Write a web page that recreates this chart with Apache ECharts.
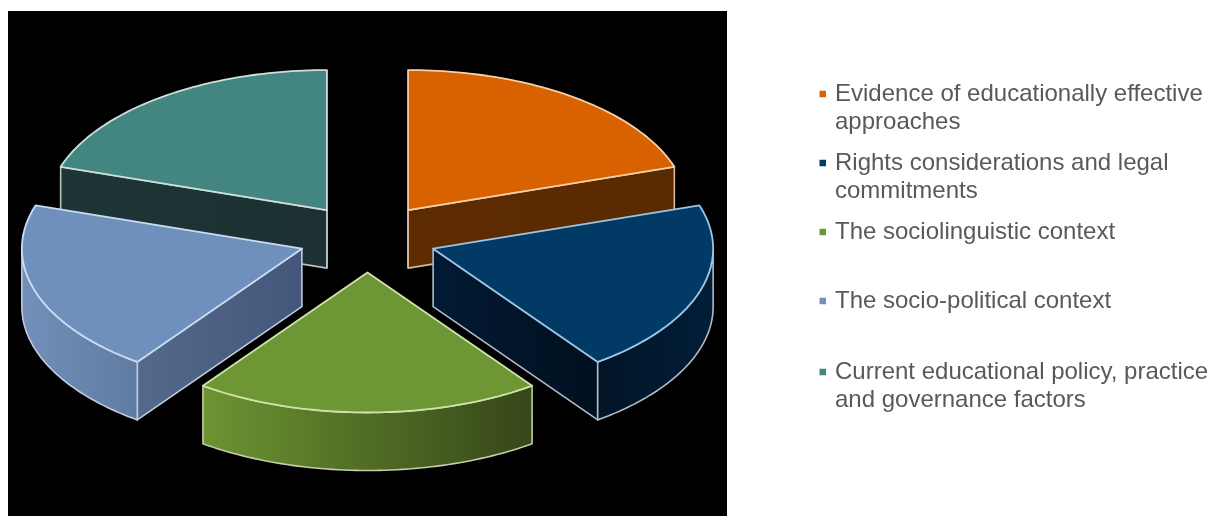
<!DOCTYPE html>
<html>
<head>
<meta charset="utf-8">
<style>html,body{margin:0;padding:0;background:#fff}#chart{width:1213px;height:516px}</style>
<script src="https://cdn.jsdelivr.net/npm/echarts@6/dist/echarts.min.js"></script>
</head>
<body>
<div id="chart"></div>
<script>
// Five equally weighted factors
const categories = [
  'Evidence of educationally effective\napproaches',
  'Rights considerations and legal\ncommitments',
  'The sociolinguistic context',
  'The socio-political context',
  'Current educational policy, practice\nand governance factors'
];
const values = [20, 20, 20, 20, 20];

// Face colours per slice
const topColors = ['#D96200', '#023A66', '#6D9634', '#6F90BC', '#438581'];
const edgeColors = ['#F7CFA8', '#9CC4E4', '#CFE3A8', '#C9DCF2', '#CFE0DC'];
const sideEdgeColors = ['#D8B8A0', '#B0BCC8', '#C4CCA8', '#C0CCDC', '#B8C4C2'];
const wallColors = [['#5E2B00', '#5A2A00'], ['#011A33', '#011020'], ['#000', '#000'], ['#54698C', '#43577A'], ['#1E3536', '#1C3031']];
const rimColors = [['#5E2B00', '#5E2B00'], ['#011427', '#021E38'], ['#6C9432', '#364619'], ['#7390BB', '#5F7BA0'], ['#1E3536', '#1E3536']];
const legendY = [94, 163, 232, 301, 372];

// Projected pie geometry
const cx = 367.5, cy = 238, rx = 280, ry = 140, depth = 58, explodeX = 69, explodeY = 34.5;
const total = values.reduce((a, b) => a + b, 0);

function renderSlice(params, api) {
  const i = params.dataIndex;
  const before = values.slice(0, i).reduce((a, b) => a + b, 0);
  const a0 = before / total * 2 * Math.PI;
  const a1 = a0 + api.value(0) / total * 2 * Math.PI;
  const mid = (a0 + a1) / 2;
  const ax = cx + explodeX * Math.sin(mid);
  const ay = cy - explodeY * Math.cos(mid);
  const pt = (t, dy) => [ax + rx * Math.sin(t), ay - ry * Math.cos(t) + dy];
  const arc = (s, e, dy) => {
    const pts = [];
    const n = 60;
    for (let k = 0; k <= n; k++) pts.push(pt(s + (e - s) * k / n, dy));
    return pts;
  };
  const hgrad = c => ({ type: 'linear', x: 0, y: 0, x2: 1, y2: 0, colorStops: [{ offset: 0, color: c[0] }, { offset: 1, color: c[1] }] });
  const sideStyle = c => ({ fill: hgrad(c), stroke: sideEdgeColors[i], lineWidth: 1.6, lineJoin: 'round' });
  // Slices nearer the viewer paint over those behind
  const base = Math.round(200 - 100 * Math.cos(mid));
  const children = [];

  // Radial cut walls that face the viewer
  [[a1, Math.sin(a1) > 1e-6], [a0, Math.sin(a0) < -1e-6]].forEach(([t, visible]) => {
    if (!visible) return;
    const e = pt(t, 0), f = pt(t, depth);
    children.push({
      type: 'polygon',
      z2: base,
      shape: { points: [[ax, ay], e, f, [ax, ay + depth]] },
      style: sideStyle(wallColors[i])
    });
  });

  // Outer rim: only the part on the near half of the ellipse shows
  const s = Math.max(a0, Math.PI / 2), e = Math.min(a1, 3 * Math.PI / 2);
  if (e > s) {
    children.push({
      type: 'polygon',
      z2: base,
      shape: { points: arc(s, e, 0).concat(arc(s, e, depth).reverse()) },
      style: sideStyle(rimColors[i])
    });
  }

  // Apex edge of the two back slices
  if (Math.abs(Math.sin(a0)) < 1e-6 || Math.abs(Math.sin(a1)) < 1e-6) {
    children.push({
      type: 'line',
      z2: base + 1,
      shape: { x1: ax, y1: ay, x2: ax, y2: ay + depth },
      style: { stroke: sideEdgeColors[i], lineWidth: 1.8 }
    });
  }

  // Top face
  children.push({
    type: 'polygon',
    z2: base + 2,
    shape: { points: [[ax, ay]].concat(arc(a0, a1, 0)) },
    style: { fill: topColors[i], stroke: edgeColors[i], lineWidth: 1.8, lineJoin: 'round' }
  });

  return { type: 'group', children };
}

const legendGraphics = categories.flatMap((name, i) => [
  { type: 'rect', z: 5, shape: { x: 819.5, y: legendY[i] - 3.25, width: 6.5, height: 6.5 }, style: { fill: topColors[i] } },
  { type: 'text', z: 5, x: 835, y: legendY[i] - 13, style: { text: name, fill: '#595959', font: '24px "Liberation Sans", Arial, sans-serif', lineHeight: 27.5 } }
]);

const chart = echarts.init(document.getElementById('chart'), null, { renderer: 'canvas' });
chart.setOption({
  animation: false,
  backgroundColor: '#ffffff',
  graphic: [
    { type: 'rect', z: -1, shape: { x: 8, y: 11, width: 719, height: 505 }, style: { fill: '#000000' } }
  ].concat(legendGraphics),
  series: [{
    type: 'custom',
    coordinateSystem: 'none',
    name: 'Factors',
    z: 3,
    silent: true,
    data: values.map((v, i) => ({ value: [v], name: categories[i] })),
    renderItem: renderSlice
  }]
});
</script>
</body>
</html>
